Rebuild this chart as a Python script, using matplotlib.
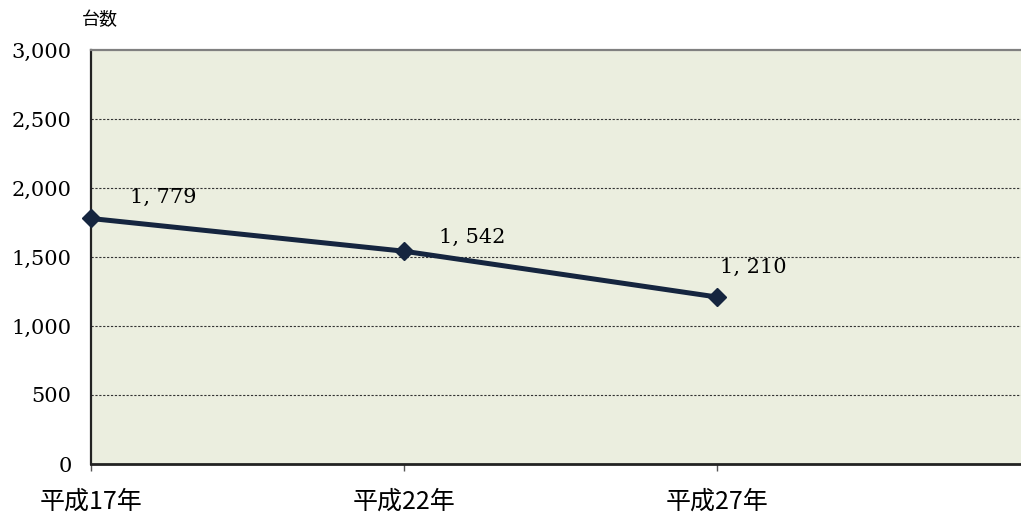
import matplotlib.pyplot as plt

years = ["平成17年", "平成22年", "平成27年"]
counts = [1779, 1542, 1210]
count_labels = ["1, 779", "1, 542", "1, 210"]
y_ticks = [0, 500, 1000, 1500, 2000, 2500, 3000]

# label offsets in points from each marker
label_offsets = [(28, 15), (25, 10), (2, 21)]

jp = ["Noto Sans CJK JP", "DejaVu Sans"]
serif = ["DejaVu Serif"]

fig = plt.figure(figsize=(10.21, 5.13), dpi=100)
ax = fig.add_axes([91 / 1021, 49 / 513, 930 / 1021, 414 / 513])
ax.set_facecolor("#EBEEDF")

x = list(range(len(years)))
ax.plot(x, counts, color="#15253F", lw=3.6, marker="D", ms=9, zorder=3, clip_on=False)

for xi, v, lab, off in zip(x, counts, count_labels, label_offsets):
    ax.annotate(lab, (xi, v), xytext=off, textcoords="offset points",
                ha="left", va="center", fontsize=15, family=serif)

ax.set_xlim(0, 930 / 313)
ax.set_ylim(0, 3000)
ax.set_yticks(y_ticks)
ax.set_yticklabels([f"{t:,}" for t in y_ticks], family=serif, fontsize=15)
ax.tick_params(axis="y", length=0, pad=14)
ax.set_xticks(x)
ax.set_xticklabels(years, family=jp, fontsize=18)
ax.tick_params(axis="x", length=5, width=1, color="#555555", pad=13)

for t in y_ticks[1:-1]:
    ax.axhline(t, color="#333333", lw=0.8, ls=(0, (2, 1.5)), zorder=1)

ax.spines["top"].set_color("#808080")
ax.spines["top"].set_linewidth(1.6)
ax.spines["right"].set_visible(False)
ax.spines["left"].set_color("#222222")
ax.spines["left"].set_linewidth(1.6)
ax.spines["bottom"].set_color("#222222")
ax.spines["bottom"].set_linewidth(2.0)

fig.text(100 / 1021, 1 - 20 / 513, "台数", family=jp, fontsize=13, ha="center", va="center")

fig.savefig("out.png", dpi=100)
